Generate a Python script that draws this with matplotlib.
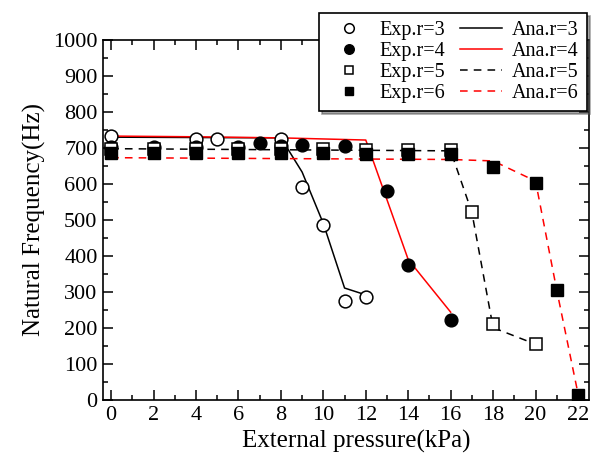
import matplotlib
matplotlib.use('Agg')
import matplotlib.pyplot as plt
from matplotlib.ticker import MultipleLocator

plt.rcParams['font.family'] = ['Liberation Serif', 'DejaVu Serif']
plt.rcParams['mathtext.fontset'] = 'stix'

# experimental points
exp3_x = [0, 4, 5, 8, 9, 10, 11, 12]
exp3_y = [732, 726, 726, 726, 591, 486, 275, 286]
exp4_x = [0, 2, 4, 6, 7, 8, 9, 11, 13, 14, 16]
exp4_y = [702, 703, 704, 704, 713, 706, 709, 706, 580, 375, 222]
exp5_x = [0, 2, 4, 6, 8, 10, 12, 14, 16, 17, 18, 20]
exp5_y = [697, 697, 697, 697, 697, 697, 695, 694, 693, 521, 212, 156]
exp6_x = [0, 2, 4, 6, 8, 10, 12, 14, 16, 18, 20, 21, 22]
exp6_y = [686, 686, 686, 686, 686, 685, 684, 684, 683, 646, 602, 305, 14]

# analytical curves
ana3_x = [0, 8, 9, 10, 11, 12]
ana3_y = [730, 728, 633, 490, 311, 292]
ana4_x = [0, 4, 8, 12, 14, 16]
ana4_y = [733, 731, 728, 722, 390, 244]
ana5_x = [0, 16, 17, 18, 20]
ana5_y = [698, 692, 521, 201, 155]
ana6_x = [0, 16, 18, 20, 21, 22]
ana6_y = [673, 668, 664, 608, 305, 18]

fig = plt.figure(figsize=(6.1, 4.59), dpi=100)
ax = fig.add_axes([0.169, 0.1285, 0.7966, 0.7845])

lw = 1.1
dash = (0, (5, 4))
l3, = ax.plot(ana3_x, ana3_y, color='black', lw=lw, zorder=2)
l4, = ax.plot(ana4_x, ana4_y, color='red', lw=lw, zorder=2)
l5, = ax.plot(ana5_x, ana5_y, color='black', lw=lw, linestyle=dash, zorder=2)
l6, = ax.plot(ana6_x, ana6_y, color='red', lw=lw, linestyle=dash, zorder=2)

ms = 9.2
e3, = ax.plot(exp3_x, exp3_y, 'o', ms=ms, mfc='white', mec='black', mew=1.1, zorder=3)
e4, = ax.plot(exp4_x, exp4_y, 'o', ms=ms, mfc='black', mec='black', zorder=4)
e5, = ax.plot(exp5_x, exp5_y, 's', ms=8.5, mfc='white', mec='black', mew=1.1, zorder=5)
e6, = ax.plot(exp6_x, exp6_y, 's', ms=8.5, mfc='black', mec='black', zorder=6)

ax.set_xlim(-0.38, 22.52)
ax.set_ylim(0, 1000)
ax.xaxis.set_major_locator(MultipleLocator(2))
ax.xaxis.set_minor_locator(MultipleLocator(1))
ax.yaxis.set_major_locator(MultipleLocator(100))
ax.yaxis.set_minor_locator(MultipleLocator(50))
ax.tick_params(which='both', direction='in', top=True, right=True, labelsize=16, width=1.1)
ax.tick_params(which='major', length=7, pad=4)
ax.tick_params(which='minor', length=3.6)
for s in ax.spines.values():
    s.set_linewidth(1.2)

ax.set_xlabel('External pressure(kPa)', fontsize=18, labelpad=4)
ax.xaxis.label.set_x(0.52)
ax.set_ylabel('Natural Frequency(Hz)', fontsize=18, labelpad=5)

handles = [e3, e4, e5, e6, l3, l4, l5, l6]
labels = ['Exp.r=3', 'Exp.r=4', 'Exp.r=5', 'Exp.r=6',
          'Ana.r=3', 'Ana.r=4', 'Ana.r=5', 'Ana.r=6']
leg = fig.legend(handles, labels, ncol=2, loc='upper right',
                 bbox_to_anchor=(0.962, 0.972), borderaxespad=0,
                 fontsize=14.5, frameon=True, fancybox=False, shadow=True,
                 handlelength=2.1, handletextpad=0.5, columnspacing=0.7,
                 labelspacing=0.1, borderpad=0.4, markerscale=0.75)
leg.get_frame().set_edgecolor('black')
leg.get_frame().set_linewidth(1.2)

fig.savefig('out.png', dpi=100)
